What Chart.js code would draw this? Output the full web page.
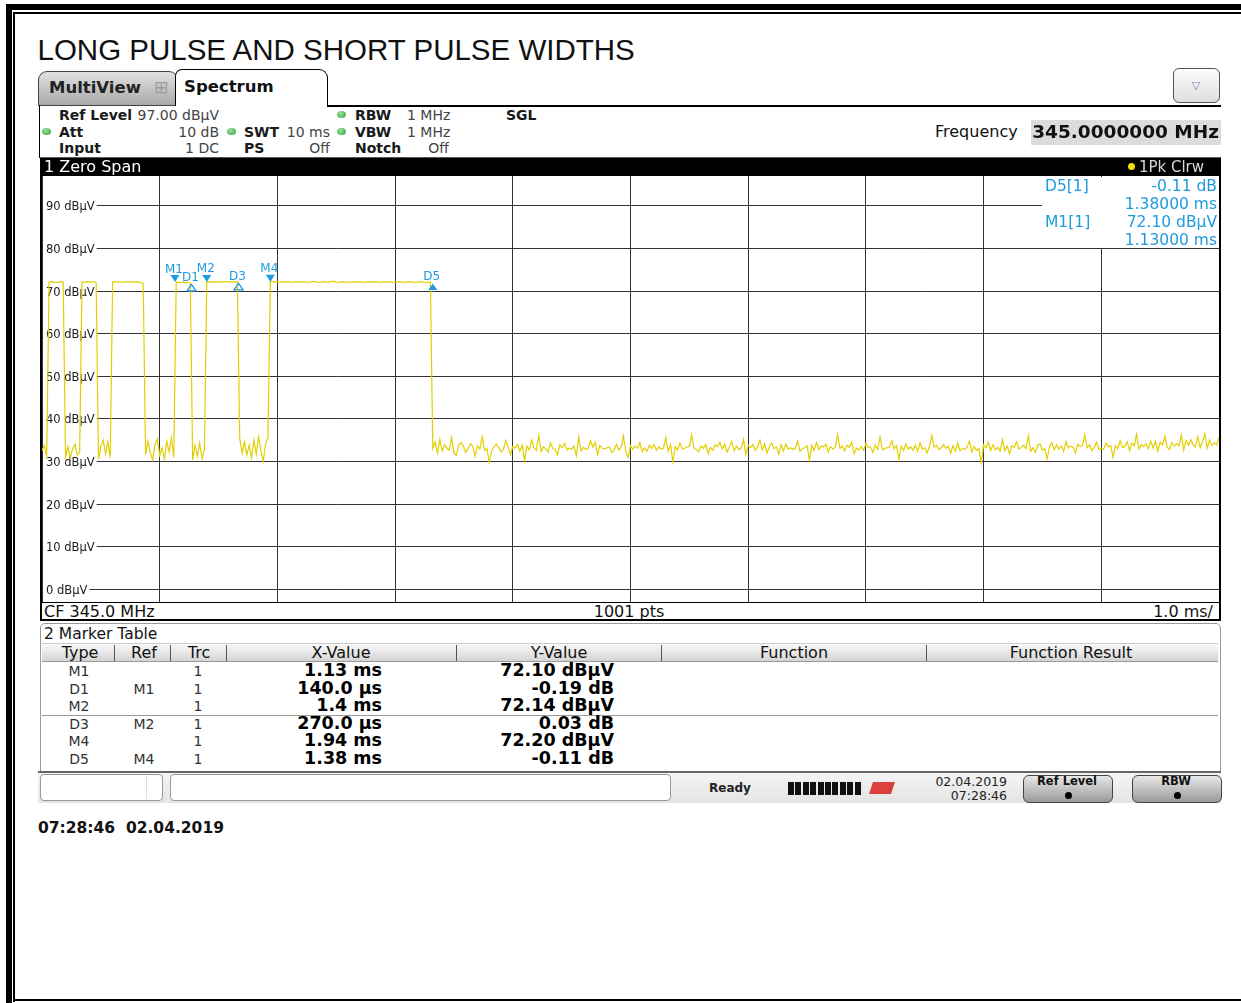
<!DOCTYPE html>
<html>
<head>
<meta charset="utf-8">
<script src="https://cdn.jsdelivr.net/npm/chart.js@4.4.1/dist/chart.umd.min.js"></script>
<style>
  html, body { margin: 0; padding: 0; background: #fff; }
  body { width: 1241px; height: 1003px; position: relative; overflow: hidden;
         font-family: "DejaVu Sans", sans-serif; color: #111; }
  .abs { position: absolute; white-space: nowrap; box-sizing: border-box; }
  .dot { position: absolute; width: 9px; height: 7px; border-radius: 50%;
         background: radial-gradient(circle at 40% 35%, #9be29b, #2f9e3a); }
  .btn { position: absolute; border: 1px solid #444; border-radius: 6px;
         background: linear-gradient(#e8e8e8, #9a9a9a); }
  .btn i { position: absolute; left: 50%; top: 16px; width: 7px; height: 7px; margin-left: -3.5px;
           border-radius: 50%; background: #000; }
</style>
</head>
<body>
<!-- page frame -->
<div class="abs" style="left:6px;top:4px;width:1235px;height:6px;background:#000"></div>
<div class="abs" style="left:6px;top:4px;width:6px;height:999px;background:#000"></div>
<div class="abs" style="left:13px;top:12px;width:1228px;height:1.5px;background:#000"></div>
<div class="abs" style="left:13px;top:12px;width:1.5px;height:990px;background:#000"></div>
<div class="abs" style="left:13px;top:999px;width:1228px;height:2px;background:#000"></div>

<!-- tabs -->
<div class="abs" style="left:38px;top:71px;width:140px;height:35px;border:1.5px solid #444;border-radius:9px 9px 0 0;background:linear-gradient(#e2e2e2,#a8a8a8)"></div>
<div class="abs" style="left:327px;top:104.5px;width:894px;height:2px;background:#000"></div>
<div class="abs" style="left:175px;top:69px;width:153px;height:37px;border:1.5px solid #000;border-bottom:none;border-radius:7px 9px 0 0;background:#fff"></div>
<div class="abs" style="left:38.5px;top:105px;width:1.5px;height:53px;background:#000"></div>
<div class="abs" style="left:1173px;top:68px;width:47px;height:35px;border:1px solid #555;border-radius:6px;background:linear-gradient(#fdfdfd,#dedede)"></div>
<div class="abs" style="left:1031px;top:120px;width:190px;height:25px;background:#dcdcdc"></div>

<!-- green status dots -->
<div class="dot" style="left:42px;top:128px"></div>
<div class="dot" style="left:227px;top:128px"></div>
<div class="dot" style="left:337px;top:111px"></div>
<div class="dot" style="left:337px;top:128px"></div>

<!-- diagram window -->
<div class="abs" style="left:40px;top:157px;width:1181px;height:464px;border:2px solid #000"></div>
<div class="abs" style="left:40px;top:157px;width:1181px;height:19px;background:#000;border-top:1px solid #555"></div>
<div class="abs" style="left:1128px;top:163px;width:7px;height:7px;border-radius:50%;background:#f2e000"></div>
<canvas id="trace" width="1177" height="426" style="position:absolute;left:42px;top:176px"></canvas>
<div class="abs" style="left:1042px;top:177px;width:177px;height:71px;background:#fff"></div>
<div class="abs" style="left:40px;top:601.5px;width:1181px;height:1.5px;background:#000"></div>

<!-- marker table panel -->
<div class="abs" style="left:40px;top:623px;width:1181px;height:149px;border:1px solid #9a9a9a;border-radius:5px 5px 0 0;background:#fff"></div>
<div class="abs" style="left:42px;top:643px;width:1176px;height:19px;border-top:1px solid #ccc;border-bottom:1px solid #999;background:linear-gradient(#fafafa,#d4d4d4)"></div>
<div class="abs" style="left:42px;top:714.5px;width:1176px;height:1.5px;background:#999"></div>

<!-- status bar -->
<div class="abs" style="left:38px;top:771px;width:1183px;height:32px;border-top:2px solid #666;background:linear-gradient(#f4f4f4,#e4e4e4)"></div>
<div class="abs" style="left:40px;top:774px;width:123px;height:27px;border:1px solid #999;border-radius:4px;background:#fff"></div>
<div class="abs" style="left:146px;top:776px;width:1px;height:23px;background:#ddd"></div>
<div class="abs" style="left:170px;top:774px;width:501px;height:27px;border:1px solid #999;border-radius:4px;background:#fff"></div>
<div id="meter" class="abs" style="left:788px;top:782px;width:74px;height:13px"></div>
<div class="abs" style="left:871px;top:782px;width:22px;height:12px;background:#d8201c;transform:skewX(-18deg);opacity:.85"></div>
<div class="btn" style="left:1023px;top:775px;width:88px;height:26px"><i></i></div>
<div class="btn" style="left:1132px;top:775px;width:88px;height:26px"><i></i></div>

<script>
// sweep settings
const REF_LEVEL = 97;          // dBuV, top of the grid
const RANGE_DB = 100;          // 10 div x 10 dB
const SWEEP_MS = 10;           // 1.0 ms/div
const SAMPLE_MS = 0.02;

const timeTicksMs = [0, 1, 2, 3, 4, 5, 6, 7, 8, 9, 10];
const levelTicksDbuv = [0, 10, 20, 30, 40, 50, 60, 70, 80, 90];

// trace 1 (1Pk Clrw), one value per 0.02 ms
const levelDbuv = [
  32.5, 33.8, 31.2, 72.1, 72.2, 72.1, 72.0, 72.1, 72.2, 72.1, // 0.00 ms
  31.0, 33.5, 30.8, 32.9, 34.0, 31.5, 32.2, 72.1, 72.0, 72.2, // 0.20
  72.1, 72.1, 72.2, 72.0, 30.5, 33.6, 35.0, 31.8, 34.6, 30.9, // 0.40
  72.1, 72.2, 72.1, 72.1, 72.0, 72.2, 72.1, 72.2, 72.1, 72.1, // 0.60
  72.2, 72.1, 72.0, 71.8, 31.6, 34.8, 32.0, 30.4, 33.9, 35.3, // 0.80
  31.4, 33.2, 30.6, 34.7, 32.3, 35.5, 31.0, 72.1, 72.1, 72.0, // 1.00
  72.1, 71.9, 72.0, 71.9, 30.3, 33.8, 31.2, 34.3, 30.6, 32.9, // 1.20
  72.1, 72.2, 72.1, 72.2, 72.1, 72.1, 72.2, 72.1, 72.2, 72.2, // 1.40
  72.1, 72.2, 72.1, 72.2, 35.4, 32.0, 34.6, 31.5, 33.8, 30.8, // 1.60
  34.9, 31.7, 35.8, 32.4, 30.0, 34.2, 35.6, 72.2, 72.2, 72.1, // 1.80
  72.2, 72.1, 72.2, 72.1, 72.1, 72.2, 72.0, 72.1, 72.2, 72.1, // 2.00
  72.1, 72.2, 72.1, 72.0, 72.1, 72.2, 72.2, 72.1, 72.0, 72.1, // 2.20
  72.2, 72.1, 72.1, 72.2, 72.3, 72.1, 72.0, 72.1, 72.2, 72.1, // 2.40
  72.1, 72.0, 72.2, 72.1, 72.1, 72.2, 72.1, 72.0, 72.1, 72.2, // 2.60
  72.1, 72.2, 72.1, 72.1, 72.0, 72.2, 72.1, 72.2, 72.1, 72.0, // 2.80
  72.1, 72.1, 72.2, 72.1, 72.0, 72.1, 72.2, 72.1, 72.1, 72.0, // 3.00
  72.1, 72.2, 72.1, 72.0, 72.1, 72.1, 33.0, 34.6, 31.9, 35.2, // 3.20
  32.4, 33.9, 33.1, 32.7, 35.6, 32.0, 31.4, 33.8, 34.4, 33.6, // 3.40
  32.1, 33.0, 34.2, 33.5, 31.2, 33.7, 32.9, 35.8, 32.6, 33.0, // 3.60
  29.8, 32.4, 33.5, 34.1, 33.3, 32.2, 32.8, 34.9, 33.4, 31.6, // 3.80
  33.5, 33.1, 34.0, 32.4, 33.8, 30.2, 33.6, 32.7, 35.0, 33.2, // 4.00
  32.6, 36.1, 32.3, 33.4, 33.0, 32.2, 34.4, 33.0, 32.8, 31.5, // 4.20
  33.9, 33.2, 34.2, 32.7, 33.1, 32.9, 33.6, 31.3, 35.7, 32.5, // 4.40
  33.3, 32.8, 33.0, 34.9, 33.4, 34.5, 31.5, 33.7, 33.1, 32.9, // 4.60
  33.2, 33.4, 32.1, 32.6, 34.0, 32.7, 33.3, 36.0, 32.2, 30.9, // 4.80
  33.7, 32.8, 33.6, 33.1, 34.4, 32.3, 33.2, 32.4, 33.8, 33.0, // 5.00
  34.0, 32.6, 33.4, 32.9, 33.1, 35.6, 32.4, 33.9, 29.9, 33.5, // 5.20
  32.7, 34.3, 32.9, 33.1, 33.4, 33.5, 36.2, 33.0, 32.8, 32.3, // 5.40
  33.6, 33.1, 34.0, 31.8, 33.3, 32.6, 33.9, 33.5, 34.5, 32.9, // 5.60
  34.0, 32.2, 33.3, 34.7, 32.5, 33.6, 32.8, 33.0, 35.2, 31.6, // 5.80
  33.8, 33.3, 33.9, 32.6, 33.4, 35.0, 32.7, 34.1, 32.0, 33.5, // 6.00
  34.3, 33.0, 33.4, 31.7, 33.9, 32.5, 34.0, 32.9, 33.2, 32.8, // 6.20
  33.1, 34.8, 32.4, 33.0, 33.2, 33.7, 30.3, 33.8, 32.6, 34.4, // 6.40
  32.8, 33.6, 33.4, 34.1, 32.2, 33.5, 32.9, 33.3, 36.3, 33.1, // 6.60
  33.6, 32.5, 33.8, 33.3, 34.5, 31.8, 33.1, 32.7, 33.5, 32.6, // 6.80
  34.2, 33.4, 33.3, 32.1, 33.9, 32.8, 35.7, 32.7, 33.0, 33.2, // 7.00
  33.4, 34.9, 33.0, 33.7, 30.5, 33.6, 32.5, 34.1, 32.9, 33.4, // 7.20
  32.6, 33.8, 32.3, 34.4, 32.9, 33.2, 32.0, 33.5, 36.1, 33.3, // 7.40
  33.8, 32.8, 33.2, 34.0, 33.1, 33.6, 31.9, 33.7, 32.4, 34.3, // 7.60
  32.5, 33.1, 32.8, 33.4, 34.8, 32.2, 33.5, 32.6, 33.0, 29.7, // 7.80
  33.9, 33.2, 34.5, 32.6, 33.9, 32.7, 33.3, 32.4, 35.2, 32.5, // 8.00
  33.6, 31.8, 33.7, 33.3, 34.6, 32.9, 33.3, 33.8, 33.0, 36.0, // 8.20
  32.4, 33.2, 32.1, 33.8, 34.1, 32.6, 33.0, 30.6, 33.5, 34.4, // 8.40
  32.7, 33.9, 32.9, 33.6, 32.3, 34.7, 33.1, 33.6, 33.4, 32.0, // 8.60
  34.0, 33.5, 33.7, 36.2, 33.2, 33.9, 32.5, 33.2, 34.5, 32.8, // 8.80
  33.1, 32.8, 34.3, 33.4, 33.8, 30.9, 33.7, 33.0, 34.9, 33.3, // 9.00
  33.5, 34.6, 32.6, 34.3, 33.7, 36.4, 32.9, 34.0, 33.5, 34.2, // 9.20
  33.0, 34.8, 33.1, 34.7, 32.4, 34.5, 33.9, 36.0, 33.3, 32.8, // 9.40
  34.4, 33.6, 34.2, 33.6, 36.3, 32.7, 34.9, 33.8, 35.1, 33.9, // 9.60
  33.4, 35.8, 33.2, 34.6, 36.5, 33.1, 35.0, 33.7, 34.4, 33.9, // 9.80
  35.6                                                        // 10.00
];

// marker table (deltas are relative to their reference marker)
const markerNames  = ['M1', 'D1', 'M2', 'D3', 'M4', 'D5'];
const markerRefs   = ['', 'M1', '', 'M2', '', 'M4'];
const markerTraces = [1, 1, 1, 1, 1, 1];
const markerXms    = [1.13, 0.14, 1.4, 0.27, 1.94, 1.38];
const markerYdb    = [72.10, -0.19, 72.14, 0.03, 72.20, -0.11];
const markerXText  = ['1.13 ms', '140.0 µs', '1.4 ms', '270.0 µs', '1.94 ms', '1.38 ms'];
const markerYText  = ['72.10 dBµV', '-0.19 dB', '72.14 dBµV', '0.03 dB', '72.20 dBµV', '-0.11 dB'];
const infoMarkers  = ['D5', 'M1'];

const TRACE_YELLOW = '#e3cf00';
const MARKER_BLUE = '#1e9be0';
const hollowMarkers = ['D1', 'D3'];

function put(text, x, y, css, align) {
  const el = document.createElement('div');
  el.className = 'abs';
  el.textContent = text;
  el.style.cssText += 'left:' + x + 'px;top:' + y + 'px;line-height:1.2;' + (css || '');
  el.style.transform = align === 'right' ? 'translate(-100%,-50%)'
                     : align === 'center' ? 'translate(-50%,-50%)' : 'translateY(-50%)';
  document.body.appendChild(el);
  return el;
}

const B = 'font-weight:bold;';
const lab = 'font-size:14px;font-weight:bold;color:#1a1a1a;';
const val = 'font-size:14px;color:#444;';

put('LONG PULSE AND SHORT PULSE WIDTHS', 37.5, 50, 'font-family:"Liberation Sans",Arial,sans-serif;font-size:29.5px;color:#111;');
put('MultiView', 49, 88, 'font-size:16.5px;' + B + 'color:#222;');
put('⊞', 161, 87, 'font-size:17px;color:#9a9a9a;', 'center');
put('Spectrum', 184, 87, 'font-size:16.5px;' + B + 'color:#111;');
put('▽', 1196, 86, 'font-size:11px;color:#8a80a8;', 'center');

put('Ref Level', 59, 115, lab);  put('97.00 dBµV', 219, 115, val, 'right');
put('Att', 59, 132, lab);        put('10 dB', 219, 132, val, 'right');
put('Input', 59, 148, lab);      put('1 DC', 219, 148, val, 'right');
put('SWT', 244, 132, lab);       put('10 ms', 330, 132, val, 'right');
put('PS', 244, 148, lab);        put('Off', 330, 148, val, 'right');
put('RBW', 355, 115, lab);       put('1 MHz', 407, 115, val);
put('VBW', 355, 132, lab);       put('1 MHz', 407, 132, val);
put('Notch', 355, 148, lab);     put('Off', 449, 148, val, 'right');
put('SGL', 506, 115, lab);
put('Frequency', 935, 132, 'font-size:16px;color:#111;');
put('345.0000000 MHz', 1219, 132, 'font-size:18.5px;' + B + 'color:#111;', 'right');

put('1 Zero Span', 44, 166.5, 'font-size:16px;color:#fff;');
put('1Pk Clrw', 1204, 166.5, 'font-size:15px;color:#d8d8d8;', 'right');

put('CF 345.0 MHz', 44, 611.5, 'font-size:16px;color:#111;');
put('1001 pts', 629, 611.5, 'font-size:16px;color:#111;', 'center');
put('1.0 ms/', 1213, 611.5, 'font-size:16px;color:#111;', 'right');

// marker bookkeeping: absolute position of every marker
const markerAbs = {};
markerNames.forEach((n, i) => {
  const r = markerRefs[i] ? markerAbs[markerRefs[i]] : { x: 0, y: 0 };
  markerAbs[n] = { x: r.x + markerXms[i], y: r.y + markerYdb[i] };
});

// marker info in the top right corner of the diagram
const blue = 'font-size:15.5px;color:' + MARKER_BLUE + ';';
infoMarkers.forEach((n, k) => {
  const i = markerNames.indexOf(n);
  const y0 = 185.5 + k * 36;
  put(n + '[' + markerTraces[i] + ']', 1045, y0, blue);
  put(markerYText[i], 1217, y0, blue, 'right');
  put(markerXms[i].toFixed(5) + ' ms', 1217, y0 + 18, blue, 'right');
});

// marker table
put('2 Marker Table', 44, 634, 'font-size:15.5px;color:#111;');
const headers = ['Type', 'Ref', 'Trc', 'X-Value', 'Y-Value', 'Function', 'Function Result'];
const headerCenters = [80, 144, 199, 341, 559, 794, 1071];
const colSeps = [114, 170, 226, 456, 661, 926];
headers.forEach((h, i) => put(h, headerCenters[i], 652.5, 'font-size:16px;color:#111;', 'center'));
colSeps.forEach(x => {
  const s = document.createElement('div');
  s.className = 'abs';
  s.style.cssText = 'left:' + x + 'px;top:645px;width:1px;height:16px;background:#555;';
  document.body.appendChild(s);
});
markerNames.forEach((n, i) => {
  const y0 = 671 + i * 17.6;
  put(n, 79, y0, 'font-size:14px;color:#333;', 'center');
  if (markerRefs[i]) put(markerRefs[i], 144, y0, 'font-size:14px;color:#333;', 'center');
  put(String(markerTraces[i]), 198, y0, 'font-size:14px;color:#333;', 'center');
  put(markerXText[i], 382, y0, 'font-size:17.5px;' + B + 'color:#000;line-height:1;', 'right');
  put(markerYText[i], 614, y0, 'font-size:17.5px;' + B + 'color:#000;line-height:1;', 'right');
});

// status bar
put('Ready', 730, 788, 'font-size:12px;' + B + 'color:#222;', 'center');
const meter = document.getElementById('meter');
for (let k = 0; k < 10; k++) {
  const s = document.createElement('div');
  s.className = 'abs';
  s.style.cssText = 'left:' + (k * 7.4) + 'px;top:0;width:6px;height:13px;background:#111;';
  meter.appendChild(s);
}
put('02.04.2019', 1007, 781, 'font-size:12.5px;color:#222;', 'right');
put('07:28:46', 1007, 795, 'font-size:12.5px;color:#222;', 'right');
put('Ref Level', 1067, 782, 'font-size:11.5px;' + B + 'color:#111;', 'center');
put('RBW', 1176, 782, 'font-size:11.5px;' + B + 'color:#111;', 'center');

put('07:28:46  02.04.2019', 38, 828, 'font-size:15.5px;' + B + 'color:#111;white-space:pre;');

// level labels sit inside the grid, on white, under the trace
const levelLabels = {
  id: 'levelLabels',
  beforeDatasetsDraw(c) {
    const { ctx, chartArea, scales: { y } } = c;
    ctx.save();
    ctx.font = '11.5px "DejaVu Sans"';
    ctx.textBaseline = 'middle';
    levelTicksDbuv.forEach(v => {
      const t = v + ' dBµV';
      const py = y.getPixelForValue(v);
      const w = ctx.measureText(t).width;
      ctx.fillStyle = '#fff';
      ctx.fillRect(chartArea.left + 1, py - 2, w + 5, 4);
      ctx.fillStyle = '#1a1a1a';
      ctx.fillText(t, chartArea.left + 4, py + 1.5);
    });
    ctx.restore();
  }
};

const markerPlugin = {
  id: 'markers',
  afterDatasetsDraw(c) {
    const { ctx, scales: { x, y } } = c;
    ctx.save();
    ctx.font = '12px "DejaVu Sans"';
    ctx.textAlign = 'center';
    ctx.textBaseline = 'alphabetic';
    markerNames.forEach(n => {
      const px = x.getPixelForValue(markerAbs[n].x);
      const py = y.getPixelForValue(markerAbs[n].y);
      ctx.fillStyle = MARKER_BLUE;
      ctx.strokeStyle = MARKER_BLUE;
      ctx.lineWidth = 1.3;
      ctx.beginPath();
      if (n[0] === 'M') {
        ctx.moveTo(px, py);
        ctx.lineTo(px - 4.5, py - 7);
        ctx.lineTo(px + 4.5, py - 7);
        ctx.closePath();
        ctx.fill();
        ctx.fillText(n, px - 1, py - 9.5);
      } else {
        ctx.moveTo(px, py + 1.5);
        ctx.lineTo(px - 4.5, py + 8);
        ctx.lineTo(px + 4.5, py + 8);
        ctx.closePath();
        if (hollowMarkers.includes(n)) ctx.stroke(); else ctx.fill();
        ctx.fillText(n, px - 1, py - 2);
      }
    });
    ctx.restore();
  }
};

const tracePoints = levelDbuv.map((v, i) => ({ x: i * SAMPLE_MS, y: v }));

const gridStyle = { color: '#333', lineWidth: 1, drawTicks: false };
new Chart(document.getElementById('trace'), {
  type: 'line',
  data: {
    datasets: [{
      label: 'Trace 1',
      data: tracePoints,
      borderColor: TRACE_YELLOW,
      borderWidth: 1.2,
      pointRadius: 0,
      tension: 0,
      fill: false
    }]
  },
  options: {
    responsive: false,
    animation: false,
    events: [],
    layout: { padding: 0 },
    plugins: { legend: { display: false }, tooltip: { enabled: false } },
    scales: {
      x: {
        type: 'linear', min: 0, max: SWEEP_MS,
        afterBuildTicks: s => { s.ticks = timeTicksMs.map(v => ({ value: v })); },
        ticks: { display: false }, grid: gridStyle, border: { display: false }
      },
      y: {
        type: 'linear', min: REF_LEVEL - RANGE_DB, max: REF_LEVEL,
        afterBuildTicks: s => { s.ticks = levelTicksDbuv.map(v => ({ value: v })); },
        ticks: { display: false }, grid: gridStyle, border: { display: false }
      }
    }
  },
  plugins: [levelLabels, markerPlugin]
});
</script>
</body>
</html>
